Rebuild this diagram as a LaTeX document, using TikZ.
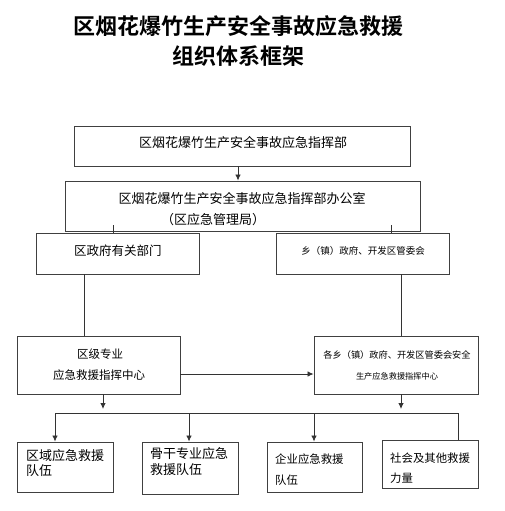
\documentclass[tikz,border=0pt]{standalone}
\usepackage{fontspec}
\setmainfont{Noto Sans CJK SC}
\newfontfamily\titlefont{Noto Sans CJK SC Bold}
\usetikzlibrary{arrows.meta,calc}
\begin{document}
\begin{tikzpicture}[x=1pt,y=-1pt,
  box/.style={draw=black!75,line width=0.9pt,rectangle,inner sep=0pt},
  lbl/.style={inner sep=0pt,font=#1},
  lbl/.default={\fontsize{12.5}{14}\selectfont},
  conn/.style={draw=black!80,line width=0.8pt},
  arr/.style={conn,-{Latex[length=6pt,width=5.5pt]}}]
\useasboundingbox (0,0) rectangle (504,511);
% title
\node[inner sep=0pt,font=\titlefont\fontsize{22}{24}\selectfont] (t1) at (238,26) {区烟花爆竹生产安全事故应急救援};
\node[inner sep=0pt,font=\titlefont\fontsize{22}{24}\selectfont] (t2) at (238,56) {组织体系框架};
% boxes
\node[box,minimum width=336pt,minimum height=40pt] (b1) at (242,146) {};
\node[lbl={\fontsize{13}{15}\selectfont}] (b1t) at (243,143) {区烟花爆竹生产安全事故应急指挥部};
\node[box,minimum width=355pt,minimum height=50pt] (b2) at (242.5,206) {};
\node[lbl={\fontsize{13}{15}\selectfont}] (b2t) at (242,199) {区烟花爆竹生产安全事故应急指挥部办公室};
\node[lbl={\fontsize{13}{15}\selectfont}] (b2u) at (213,220) {（区应急管理局）};
\node[box,minimum width=163pt,minimum height=41pt] (b3) at (117.5,253.5) {};
\node[lbl={\fontsize{12.5}{14}\selectfont},anchor=west] (b3t) at (74,251) {区政府有关部门};
\node[box,minimum width=173pt,minimum height=41pt] (b4) at (362.5,253.5) {};
\node[lbl={\fontsize{9.5}{11}\selectfont}] (b4t) at (363,251) {乡（镇）政府、开发区管委会};
\node[box,minimum width=163pt,minimum height=58pt] (b5) at (98.5,365) {};
\node[lbl={\fontsize{11.5}{13}\selectfont}] (b5t) at (100,354) {区级专业};
\node[lbl={\fontsize{11.5}{13}\selectfont}] (b5u) at (99,375) {应急救援指挥中心};
\node[box,minimum width=164pt,minimum height=58pt] (b6) at (396,365) {};
\node[lbl={\fontsize{9.2}{11}\selectfont}] (b6t) at (397,355) {各乡（镇）政府、开发区管委会安全};
\node[lbl={\fontsize{8.2}{10}\selectfont}] (b6u) at (397,376) {生产应急救援指挥中心};
% bottom boxes
\node[box,minimum width=96pt,minimum height=50pt] (c1) at (65,467) {};
\node[lbl={\fontsize{13}{15}\selectfont},anchor=west] (c1t) at (26,456) {区域应急救援};
\node[lbl={\fontsize{13}{15}\selectfont},anchor=west] (c1u) at (26,471) {队伍};
\node[box,minimum width=96pt,minimum height=52pt] (c2) at (190,468) {};
\node[lbl={\fontsize{13}{15}\selectfont},anchor=west] (c2t) at (150,454) {骨干专业应急};
\node[lbl={\fontsize{13}{15}\selectfont},anchor=west] (c2u) at (150,470) {救援队伍};
\node[box,minimum width=95pt,minimum height=50pt] (c3) at (314.5,467) {};
\node[lbl={\fontsize{11.4}{13}\selectfont},anchor=west] (c3t) at (275,459) {企业应急救援};
\node[lbl={\fontsize{11.4}{13}\selectfont},anchor=west] (c3u) at (275,480) {队伍};
\node[box,minimum width=96pt,minimum height=48pt] (c4) at (430,464) {};
\node[lbl={\fontsize{11.4}{13}\selectfont},anchor=west] (c4t) at (390,458) {社会及其他救援};
\node[lbl={\fontsize{11.4}{13}\selectfont},anchor=west] (c4u) at (390,478) {力量};
% connectors
\draw[arr] (238,0 |- b1.south) -- (238,0 |- b2.north);
\draw[conn] (113,225) -- (113,0 |- b3.north);
\draw[conn] (391,225) -- (391,0 |- b4.north);
\draw[conn] (84,0 |- b3.south) -- (84,0 |- b5.north);
\draw[conn] (401,0 |- b4.south) -- (401,0 |- b6.north);
\draw[arr] (b5.east |- 0,374) -- (b6.west |- 0,374);
\coordinate (busL) at (55,413);
\coordinate (busR) at (458,413);
\coordinate (d5) at (103,409);
\coordinate (d6) at (401,409);
\draw[arr] (103,0 |- b5.south) -- (d5);
\draw[arr] (401,0 |- b6.south) -- (d6);
\draw[conn] (busL) -- (busR);
\draw[arr] (busL) -- (busL |- c1.north);
\draw[arr] (189,413) -- (189,0 |- c2.north);
\draw[arr] (314,413) -- (314,0 |- c3.north);
\draw[conn] (busR) -- (busR |- c4.north);
\end{tikzpicture}
\end{document}
